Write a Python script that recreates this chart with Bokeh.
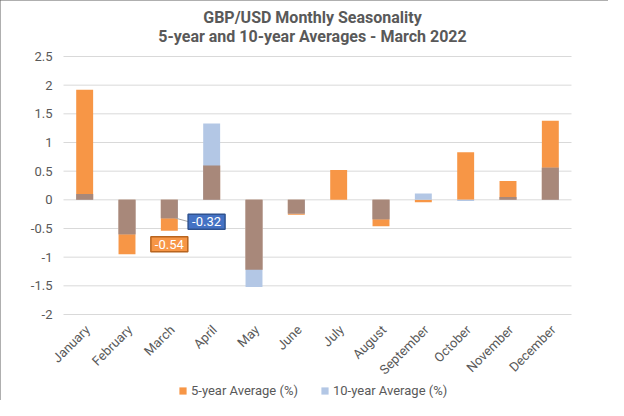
import math
import numpy as np
from bokeh.plotting import figure
from bokeh.models import (Range1d, Label, ColumnDataSource, Legend, LegendItem)
from bokeh.core.properties import value
from bokeh.embed import file_html
from bokeh.resources import INLINE

months = ["January", "February", "March", "April", "May", "June", "July",
          "August", "September", "October", "November", "December"]
avg5 = [1.92, -0.95, -0.54, 0.60, -1.22, -0.26, 0.52, -0.46, -0.04, 0.83, 0.33, 1.38]
avg10 = [0.10, -0.60, -0.32, 1.33, -1.52, -0.24, 0.00, -0.34, 0.11, -0.02, 0.05, 0.56]
yticks = [-2, -1.5, -1, -0.5, 0, 0.5, 1, 1.5, 2, 2.5]
ytick_labels = ["-2", "-1.5", "-1", "-0.5", "0", "0.5", "1", "1.5", "2", "2.5"]
title1 = "GBP/USD Monthly Seasonality"
title2 = "5-year and 10-year Averages - March 2022"
series_names = ["5-year Average (%)", "10-year Average (%)"]
callout_month = "March"

ORANGE = "#F79646"
BLUE = "#B3C7E5"
BROWN = "#A8887A"
GRID = "#D9D9D9"
TXT = "#595959"
FONT = "Roboto"

# layout: the frame covers the whole canvas; the plot area of the chart is
# the box LEFT..RIGHT x TOP..BOT (pixels) inside it
W, H = 608, 400
LEFT, RIGHT, TOP, BOT = 63, 571, 56, 314
ymin, ymax = yticks[0], yticks[-1]
n = len(months)
pxu_y = (BOT - TOP) / (ymax - ymin)
pxu_x = (RIGHT - LEFT) / n


def ypx(py):
    return ymax + (TOP - py) / pxu_y


def xpx(px):
    return (px - LEFT) / pxu_x


xs = [i + 0.5 for i in range(n)]
a5 = np.array(avg5)
a10 = np.array(avg10)
same = np.sign(a5) == np.sign(a10)
overlap = np.where(same, np.sign(a5) * np.minimum(np.abs(a5), np.abs(a10)), 0.0)

src = ColumnDataSource(dict(x=xs, m=months, a5=avg5, a10=avg10, ov=list(overlap)))

p = figure(width=W, height=H, x_range=Range1d(xpx(0), xpx(W)),
           y_range=Range1d(ypx(H), ypx(0)), output_backend="svg",
           toolbar_location=None, min_border=0)
p.outline_line_color = None
p.title.visible = False
p.axis.visible = False
p.grid.visible = False

# horizontal gridlines across the plot area
p.segment(x0=[0] * len(yticks), x1=[n] * len(yticks), y0=yticks, y1=yticks,
          line_color=GRID, line_width=1)

bw = 0.40
r5 = p.vbar(x="x", top="a5", bottom=0, width=bw, source=src, fill_color=ORANGE,
            line_color=None)
r10 = p.vbar(x="x", top="a10", bottom=0, width=bw, source=src, fill_color=BLUE,
             line_color=None)
p.vbar(x="x", top="ov", bottom=0, width=bw, source=src, fill_color=BROWN,
       line_color=None)

# value-axis labels
p.text(x=[0] * len(yticks), y=yticks, text=ytick_labels, text_align="right",
       text_baseline="middle", x_offset=-11, text_font=value(FONT),
       text_font_size="13px", text_color=TXT)

# category labels, rotated 45 degrees under the lowest gridline
p.text(x=xs, y=[ymin] * n, text=months, angle=math.pi / 4,
       text_align="right", text_baseline="middle", x_offset=3, y_offset=13,
       text_font=value(FONT), text_font_size="13px", text_color=TXT)

# titles
for t, py in ((title1, 17), (title2, 36)):
    p.add_layout(Label(x=n / 2, y=ypx(py), x_offset=-5, text=t,
                       text_align="center", text_baseline="middle",
                       text_font=FONT, text_font_size="16px",
                       text_font_style="bold", text_color=TXT))

# callout labels
ci = months.index(callout_month)
cx = xs[ci]
v5 = avg5[ci]
v10 = avg10[ci]
lab5 = Label(x=cx, y=v5, y_offset=-13.5, text=f"{v5:.2f}", text_align="center",
             text_baseline="middle", text_font=FONT, text_font_size="13px",
             text_color="white", background_fill_color=ORANGE,
             border_line_color="#B8641E", border_line_width=1.5, padding=(4, 3))
lab10 = Label(x=cx + 0.88, y=v10, y_offset=-3.5, text=f"{v10:.2f}",
              text_align="center", text_baseline="middle", text_font=FONT,
              text_font_size="13px", text_color="white",
              background_fill_color="#4472C4", border_line_color="#2F528F",
              border_line_width=1.5, padding=(4, 3))
p.add_layout(lab5)
p.add_layout(lab10)
p.segment(x0=[cx + 0.15], y0=[v10], x1=[cx + 0.45], y1=[v10 - 0.06],
          line_color="#A6A6A6", line_width=1)

legend = Legend(items=[LegendItem(label=series_names[0], renderers=[r5]),
                       LegendItem(label=series_names[1], renderers=[r10])],
                orientation="horizontal", location=(178, 2),
                label_text_font=FONT, label_text_font_size="13px",
                label_text_color=TXT, glyph_width=9, glyph_height=9,
                spacing=22, padding=0, margin=0, label_standoff=4,
                background_fill_alpha=0, border_line_color=None)
p.add_layout(legend, "center")

p.styles = {"outline": "2px solid #5f5f5f", "outline-offset": "-2px"}

open("out.html", "w").write(file_html(p, INLINE))
